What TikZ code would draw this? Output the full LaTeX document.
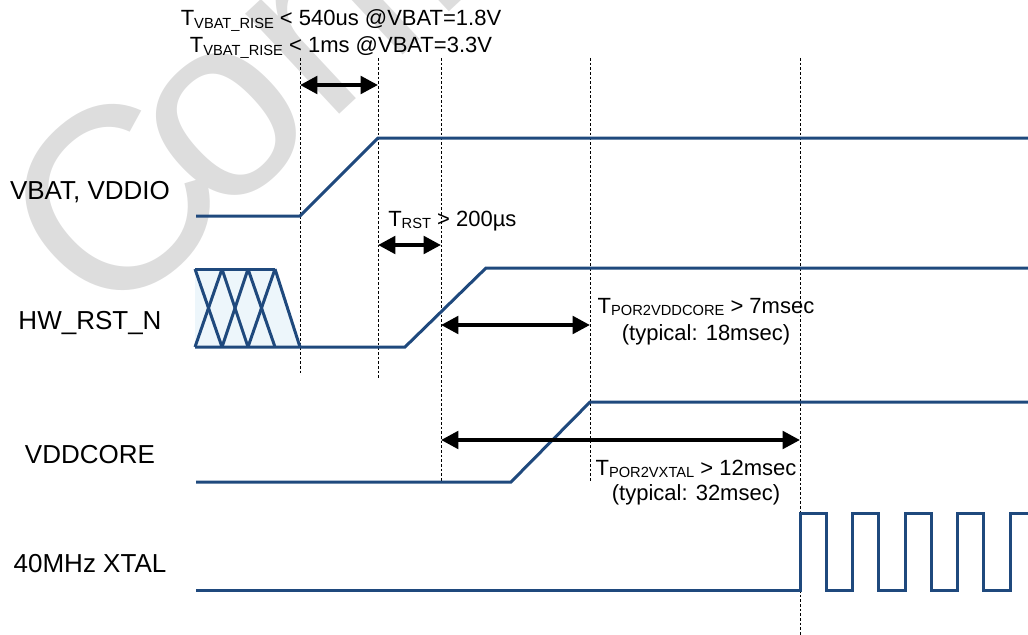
\documentclass[tikz,border=0pt]{standalone}
\usepackage{fontspec}
\setmainfont{Liberation Sans}
\usepackage{tikz}
\usetikzlibrary{arrows.meta,positioning}
\usepackage{xcolor}

\definecolor{sigblue}{RGB}{31,73,125}
\definecolor{wmgray}{RGB}{221,221,221}
\definecolor{hatchfill}{RGB}{237,246,251}
\newcommand{\lowsub}[1]{\raisebox{-0.12em}{\fontsize{11}{11}\selectfont #1}}

\begin{document}
\begin{tikzpicture}[
    x=0.75pt, y=-0.75pt,
    sig/.style={draw=sigblue, line width=2.25pt},
    guide/.style={line width=0.6pt, dash pattern=on 2pt off 1.5pt},
    dimarrow/.style={{Triangle[length=13pt,width=13pt]}-{Triangle[length=13pt,width=13pt]}, line width=3pt},
    lbl/.style={font=\fontsize{19.5}{20}\selectfont, inner sep=0pt},
    annot/.style={font=\fontsize{16.5}{18}\selectfont, inner sep=0pt}
]
    \useasboundingbox (0,0) rectangle (1028,635);

    % Watermark
    \begin{scope}
        \clip (0,0) rectangle (1028,635);
        \node[anchor=base west, rotate=43, inner sep=0pt, text=wmgray,
              font=\fontsize{195}{195}\selectfont]
              (wmark) at (106,332) {C\kern-0.12em onfidential};
    \end{scope}

    % Time markers
    \foreach \x/\y in {300/375, 378/378, 441/482, 590/482, 800/635} {
        \draw[guide] (\x,58) -- (\x,\y);
    }

    % VBAT, VDDIO
    \draw[sig] (196,216) -- (300,216) -- (378,138) -- (1028,138);

    % HW_RST_N (undefined before power-up)
    \fill[hatchfill] (195,269) -- (275,269) -- (300,347) -- (195,347) -- cycle;
    \draw[sig] (195,269) -- (275,269);
    \foreach \a/\b in {195/222, 222/195, 222/248, 248/222, 248/275, 275/248, 275/300} {
        \draw[sig] (\a,269) -- (\b,347);
    }
    \draw[sig] (195,347) -- (405,347) -- (486,268) -- (1028,268);

    % VDDCORE
    \draw[sig] (196,482) -- (511,482) -- (590,402) -- (1028,402);

    % 40MHz clock
    \draw[sig] (196,590) -- (800,590)
        foreach \k in {0,...,3} {
            -- ({800+52.5*\k},513) -- ({826+52.5*\k},513)
            -- ({826+52.5*\k},590) -- ({852.5+52.5*\k},590)
        } -- (1010,513) -- (1028,513);

    % Signal names
    \node[lbl, anchor=base] (vbat) at (90,199) {VBAT, VDDIO};
    \node[lbl, anchor=base] (hwrst) at (90,329) {HW\_RST\_N};
    \node[lbl, anchor=base] (vddcore) at (90,463) {VDDCORE};
    \node[lbl, anchor=base] (xtal) at (90,572) {40MHz XTAL};

    % Intervals
    \coordinate (riseL) at (300,85);
    \coordinate (riseR) at (378,85);
    \coordinate (rstL) at (378,245);
    \coordinate (rstR) at (441,245);
    \coordinate (coreL) at (441,325);
    \coordinate (coreR) at (590,325);
    \coordinate (xtalL) at (441,440);
    \coordinate (xtalR) at (800,440);
    \draw[dimarrow] (riseL) -- (riseR);
    \draw[dimarrow] (rstL) -- (rstR);
    \draw[dimarrow] (coreL) -- (coreR);
    \draw[dimarrow] (xtalL) -- (xtalR);

    % Timing notes
    \node[annot, anchor=base] (riseA) at (341,26) {T\lowsub{VBAT\_RISE} < 540us @VBAT=1.8V};
    \node[annot, anchor=base] (riseB) at (341,53) {T\lowsub{VBAT\_RISE} < 1ms @VBAT=3.3V};
    \node[annot, anchor=base west] (rstT) at (388,226) {T\lowsub{RST} > 200µs};
    \node[annot, anchor=base] (coreA) at (706,313) {T\lowsub{POR2VDDCORE} > 7msec};
    \node[annot, anchor=base] (coreB) at (706,340) {(typical: 18msec)};
    \node[annot, anchor=base] (xtalA) at (696,475) {T\lowsub{POR2VXTAL} > 12msec};
    \node[annot, anchor=base] (xtalB) at (696,500) {(typical: 32msec)};
\end{tikzpicture}
\end{document}
